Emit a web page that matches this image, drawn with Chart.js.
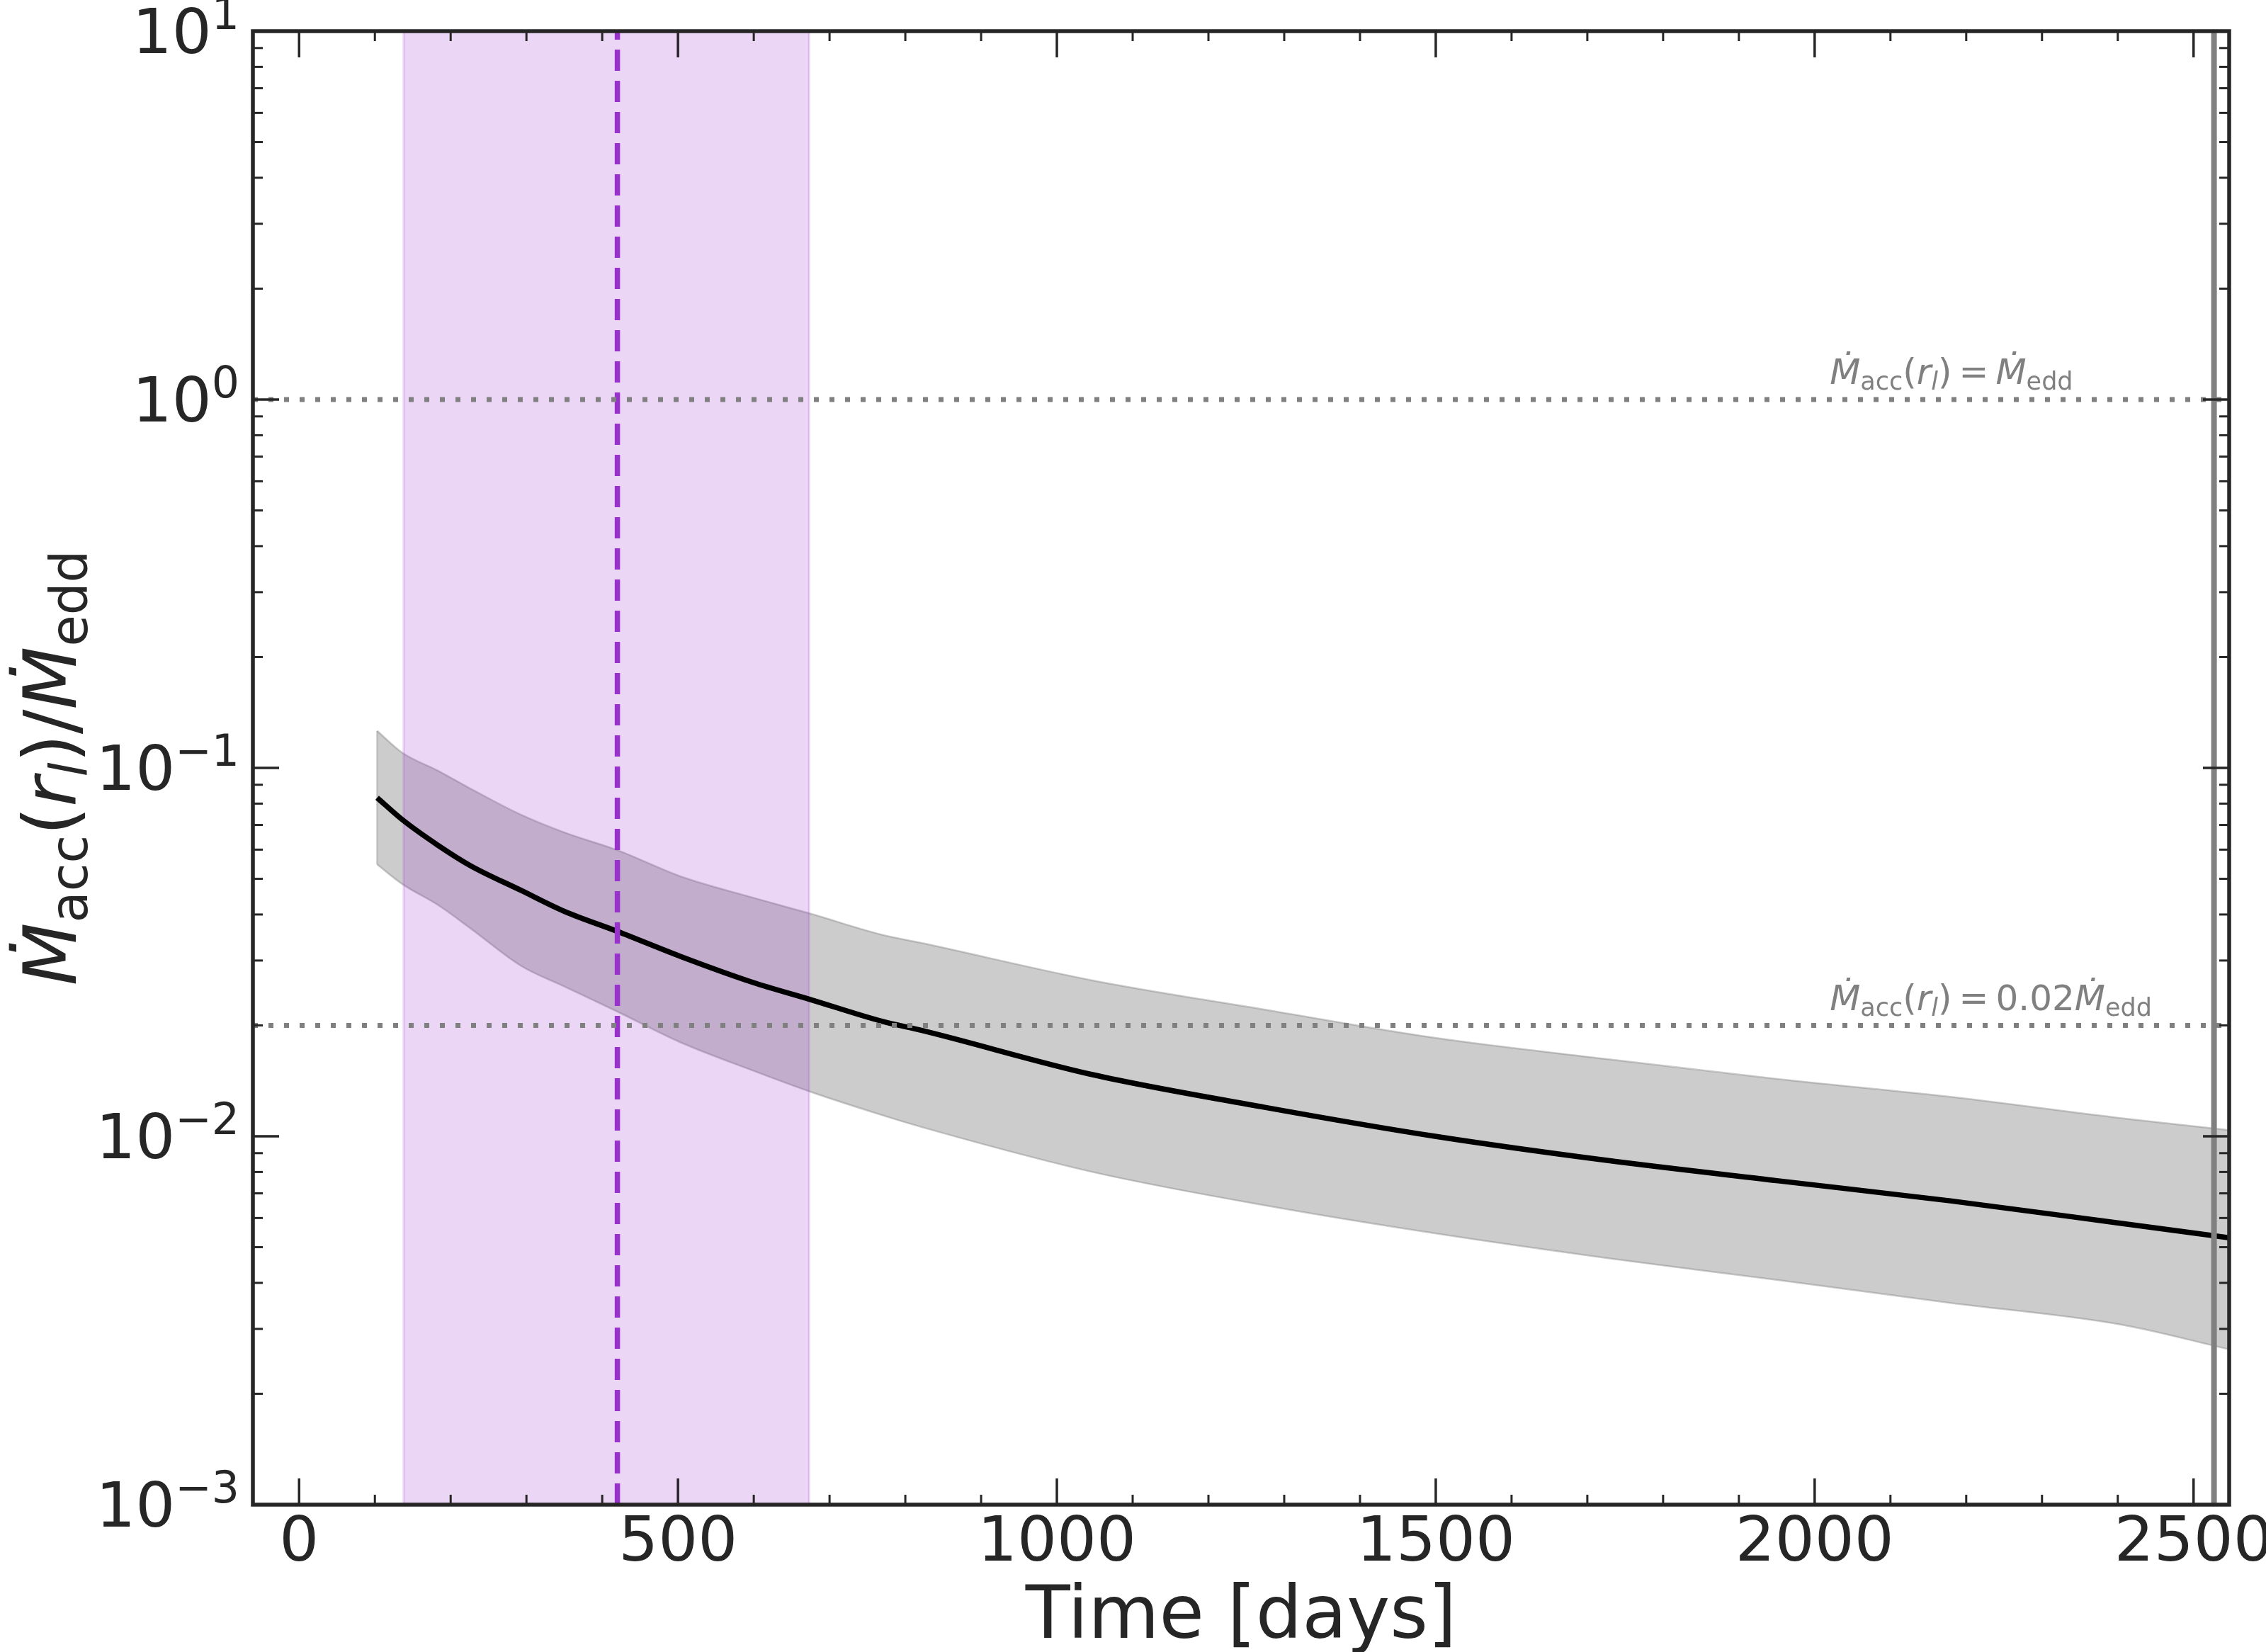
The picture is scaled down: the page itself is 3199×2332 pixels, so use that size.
<!DOCTYPE html>
<html>
<head>
<meta charset="utf-8">
<title>Accretion rate vs time</title>
<script src="https://cdn.jsdelivr.net/npm/chart.js@4.4.1/dist/chart.umd.min.js"></script>
<style>
  html, body { margin: 0; padding: 0; background: #fff; }
  canvas { display: block; }
</style>
</head>
<body>
<canvas id="chart1" width="3199" height="2332"></canvas>
<script>
// time grid in days, accretion rate at r_l in Eddington units
const days     = [103, 136, 183, 226, 293, 350, 420, 503, 598, 675, 770, 821, 1047, 1273, 1499, 1726, 1952, 2179, 2405, 2547];
const rateMid  = [0.0830, 0.0724, 0.0617, 0.0543, 0.0465, 0.0408, 0.0360, 0.0308, 0.0262, 0.0235, 0.0205, 0.0194, 0.0147, 0.0120, 0.0100, 0.0086, 0.00757, 0.00668, 0.00580, 0.00530];
const rateHigh = [0.126, 0.110, 0.0983, 0.0879, 0.0746, 0.0668, 0.0598, 0.0508, 0.0445, 0.0402, 0.0352, 0.0335, 0.0265, 0.0221, 0.0185, 0.0162, 0.0143, 0.0128, 0.0112, 0.0104];
const rateLow  = [0.0547, 0.0484, 0.0425, 0.0367, 0.0290, 0.0255, 0.0218, 0.0180, 0.0151, 0.0132, 0.0114, 0.0106, 0.0080, 0.0065, 0.00545, 0.00467, 0.00407, 0.00353, 0.00308, 0.00264];

// vertical markers (days)
const spanStart = 138;
const spanEnd = 673;
const peakDay = 420;
const endDay = 2527;

// horizontal reference levels and their notes
const levels = [1, 0.02];
const levelNotes = [
  [{t: "Ṁ", it: true}, {t: "acc", sub: true}, {t: "("}, {t: "r", it: true}, {t: "l", it: true, sub: true}, {t: ")"}, {t: "\u2009=\u2009"}, {t: "Ṁ", it: true}, {t: "edd", sub: true}],
  [{t: "Ṁ", it: true}, {t: "acc", sub: true}, {t: "("}, {t: "r", it: true}, {t: "l", it: true, sub: true}, {t: ")"}, {t: "\u2009=\u20090.02"}, {t: "Ṁ", it: true}, {t: "edd", sub: true}],
];
const noteDay = 2020;
const noteLift = 1.1;

const xTicks = [0, 500, 1000, 1500, 2000, 2500];
const yTickExp = [-3, -2, -1, 0, 1];
const xRange = [-61, 2547];
const yRange = [1e-3, 10];

const yTitle = [{t: "Ṁ", it: true}, {t: "acc", sub: true}, {t: "("}, {t: "r", it: true}, {t: "l", it: true, sub: true}, {t: ")/"}, {t: "Ṁ", it: true}, {t: "edd", sub: true}];
const xTitle = "Time [days]";

const INK = "#262626";
const FONT = '"DejaVu Sans"';

const pts = (ys) => days.map((d, i) => ({x: d, y: ys[i]}));
const vline = (d) => [{x: d, y: yRange[0]}, {x: d, y: yRange[1]}];
const hline = (v) => [{x: xRange[0], y: v}, {x: xRange[1], y: v}];

function drawMath(ctx, parts, x, y, size, color, align) {
  const runs = parts.map(p => {
    const s = p.sub || p.sup ? size * 0.7 : size;
    const font = (p.it ? "italic " : "") + s + "px " + FONT;
    ctx.font = font;
    return {t: p.t, font, w: ctx.measureText(p.t).width, dy: p.sub ? size * 0.16 : p.sup ? -size * 0.39 : 0};
  });
  const total = runs.reduce((s, r) => s + r.w, 0);
  let cx = align === "center" ? x - total / 2 : align === "right" ? x - total : x;
  ctx.fillStyle = color;
  ctx.textAlign = "left";
  ctx.textBaseline = "alphabetic";
  for (const r of runs) {
    ctx.font = r.font;
    ctx.fillText(r.t, cx, y + r.dy);
    cx += r.w;
  }
}

const frame = {
  id: "frame",
  afterDraw(chart) {
    const {ctx, chartArea: a, scales: {x, y}} = chart;
    ctx.save();
    ctx.strokeStyle = INK;
    ctx.lineCap = "butt";

    const seg = (x1, y1, x2, y2, w) => {
      ctx.lineWidth = w;
      ctx.beginPath();
      ctx.moveTo(x1, y1);
      ctx.lineTo(x2, y2);
      ctx.stroke();
    };

    // x ticks, inward on bottom and top
    for (let v = 0; v <= xRange[1]; v += 100) {
      const px = x.getPixelForValue(v);
      const major = xTicks.includes(v);
      const len = major ? 37 : 14;
      const w = major ? 3.5 : 3;
      seg(px, a.bottom, px, a.bottom - len, w);
      seg(px, a.top, px, a.top + len, w);
    }
    // y ticks, inward on left and right
    for (const e of yTickExp) {
      for (let m = 1; m <= 9; m++) {
        const v = m * Math.pow(10, e);
        if (v > yRange[1] * 1.0001) break;
        const py = y.getPixelForValue(v);
        const len = m === 1 ? 37 : 14;
        const w = m === 1 ? 3.5 : 3;
        seg(a.left, py, a.left + len, py, w);
        seg(a.right, py, a.right - len, py, w);
      }
    }

    // spines
    ctx.lineWidth = 5.5;
    ctx.strokeRect(a.left, a.top, a.right - a.left, a.bottom - a.top);

    // x tick labels
    ctx.fillStyle = INK;
    ctx.font = "88px " + FONT;
    ctx.textAlign = "center";
    ctx.textBaseline = "alphabetic";
    for (const v of xTicks) {
      ctx.fillText(String(v), x.getPixelForValue(v), a.bottom + 79);
    }

    // y tick labels as 10^n
    for (const e of yTickExp) {
      const py = y.getPixelForValue(Math.pow(10, e));
      const ex = e < 0 ? "\u2212" + Math.abs(e) : String(e);
      drawMath(ctx, [{t: "10"}, {t: ex, sup: true}], a.left - 19, py + 31, 88, INK, "right");
    }

    // axis titles
    ctx.fillStyle = INK;
    ctx.font = "103px " + FONT;
    ctx.textAlign = "center";
    ctx.fillText(xTitle, (a.left + a.right) / 2, 2312);

    ctx.save();
    ctx.translate(107, (a.top + a.bottom) / 2);
    ctx.rotate(-Math.PI / 2);
    drawMath(ctx, yTitle, 0, 0, 103, INK, "center");
    ctx.restore();

    // notes above reference levels
    levels.forEach((lv, i) => {
      drawMath(ctx, levelNotes[i], x.getPixelForValue(noteDay), y.getPixelForValue(lv * noteLift), 50, "#808080", "left");
    });

    ctx.restore();
  }
};

const ctx = document.getElementById("chart1");

const chart = new Chart(ctx, {
  type: "line",
  data: {
    datasets: [
      {
        label: "upper",
        data: pts(rateHigh),
        borderColor: "rgba(128,128,128,0.4)",
        borderWidth: 2.5,
        backgroundColor: "rgba(128,128,128,0.4)",
        fill: "+1",
        cubicInterpolationMode: "monotone",
        order: 10,
      },
      {
        label: "lower",
        data: pts(rateLow),
        borderColor: "rgba(128,128,128,0.4)",
        borderWidth: 2.5,
        fill: false,
        cubicInterpolationMode: "monotone",
        order: 9,
      },
      {
        label: "band edge",
        data: [{x: days[0], y: rateLow[0]}, {x: days[0], y: rateHigh[0]}],
        borderColor: "rgba(128,128,128,0.4)",
        borderWidth: 2.5,
        fill: false,
        order: 9,
      },
      {
        label: "window",
        data: [{x: spanStart, y: yRange[1]}, {x: spanEnd, y: yRange[1]}],
        borderWidth: 0,
        backgroundColor: "rgba(153,50,204,0.2)",
        fill: "start",
        order: 8,
      },
      {
        label: "window start",
        data: vline(spanStart),
        borderColor: "rgba(153,50,204,0.2)",
        borderWidth: 3,
        fill: false,
        order: 8,
      },
      {
        label: "window end",
        data: vline(spanEnd),
        borderColor: "rgba(153,50,204,0.2)",
        borderWidth: 3,
        fill: false,
        order: 8,
      },
      {
        label: "median",
        data: pts(rateMid),
        borderColor: "#000000",
        borderWidth: 7.5,
        fill: false,
        cubicInterpolationMode: "monotone",
        borderJoinStyle: "round",
        order: 5,
      },
      {
        label: "peak",
        data: vline(peakDay),
        borderColor: "#9932CC",
        borderWidth: 7.5,
        borderDash: [30, 14],
        fill: false,
        order: 4,
      },
      ...levels.map(lv => ({
        label: "level " + lv,
        data: hline(lv),
        borderColor: "#808080",
        borderWidth: 7,
        borderDash: [7, 15],
        fill: false,
        order: 3,
      })),
      {
        label: "end",
        data: vline(endDay),
        borderColor: "#808080",
        borderWidth: 8,
        fill: false,
        order: 1,
      },
    ],
  },
  options: {
    responsive: false,
    devicePixelRatio: 1,
    animation: false,
    elements: {point: {radius: 0, hoverRadius: 0}},
    layout: {padding: {top: 44, right: 52, left: 0, bottom: 0}},
    plugins: {legend: {display: false}, tooltip: {enabled: false}},
    scales: {
      x: {
        type: "linear",
        min: xRange[0],
        max: xRange[1],
        ticks: {display: false},
        grid: {display: false},
        border: {display: false},
        afterFit: (s) => { s.height = 208; },
      },
      y: {
        type: "logarithmic",
        min: yRange[0],
        max: yRange[1],
        ticks: {display: false},
        grid: {display: false},
        border: {display: false},
        afterFit: (s) => { s.width = 357; },
      },
    },
  },
  plugins: [frame],
});
</script>
</body>
</html>
